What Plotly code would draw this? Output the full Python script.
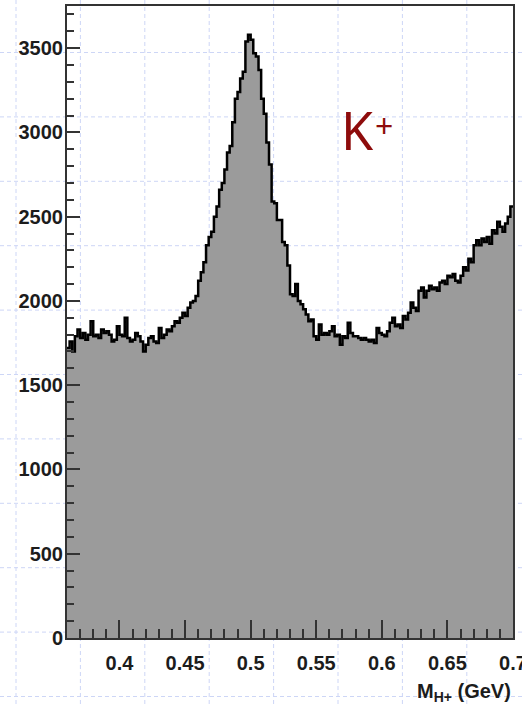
import numpy as np
import plotly.graph_objects as go

# Invariant-mass histogram: 170 bins of 2 MeV between 0.36 and 0.70 GeV
mass_lo = 0.36
mass_hi = 0.70
counts = [
    1720, 1760, 1700, 1790, 1830, 1780, 1810, 1770, 1800, 1880,
    1790, 1800, 1780, 1830, 1810, 1820, 1800, 1760, 1770, 1850,
    1800, 1790, 1900, 1780, 1760, 1770, 1810, 1790, 1760, 1700,
    1740, 1780, 1790, 1760, 1750, 1840, 1780, 1800, 1830, 1820,
    1850, 1880, 1870, 1900, 1930, 1910, 1960, 1990, 2000, 2030,
    2120, 2170, 2230, 2330, 2380, 2410, 2500, 2560, 2660, 2700,
    2780, 2880, 2920, 3060, 3200, 3240, 3320, 3360, 3540, 3580,
    3550, 3470, 3450, 3370, 3200, 3110, 2940, 2810, 2590, 2580,
    2480, 2480, 2350, 2330, 2210, 2040, 2030, 2100, 2000, 1980,
    1950, 1920, 1880, 1890, 1790, 1770, 1860, 1800, 1810, 1800,
    1820, 1850, 1790, 1800, 1740, 1790, 1780, 1870, 1810, 1790,
    1790, 1780, 1770, 1780, 1770, 1760, 1770, 1750, 1840, 1810,
    1800, 1790, 1820, 1870, 1900, 1850, 1860, 1840, 1910, 1890,
    1930, 1990, 1960, 1940, 2060, 2080, 2020, 2060, 2090, 2070,
    2080, 2060, 2110, 2120, 2100, 2150, 2140, 2160, 2120, 2110,
    2150, 2200, 2180, 2250, 2230, 2330, 2360, 2330, 2370, 2350,
    2380, 2340, 2420, 2400, 2470, 2440, 2410, 2460, 2500, 2560,
]
x_ticks = [0.4, 0.45, 0.5, 0.55, 0.6, 0.65, 0.7]
y_ticks = [0, 500, 1000, 1500, 2000, 2500, 3000, 3500]
particle_label = "K"
particle_charge = "+"

edges = np.linspace(mass_lo, mass_hi, len(counts) + 1)
step_x = list(edges)
step_y = list(counts) + [counts[-1]]

W, H = 522, 705
ML, MR, MT, MB = 67, 9, 6, 67
PW, PH = W - ML - MR, H - MT - MB

fig = go.Figure()
fig.add_trace(go.Scatter(
    x=step_x, y=step_y, mode="lines", line_shape="hv",
    line=dict(color="#000000", width=2.5),
    fill="tozeroy", fillcolor="#9b9b9b", hoverinfo="skip",
))

# light dashed lattice behind the frame
def px_to_paper_x(p):
    return (p - ML) / PW

def px_to_paper_y(p):
    return (H - MB - p) / PH

pitch = 64.4
lattice = dict(color="#cdd6f6", width=1, dash="4px,3px")
shapes = []
gx = 16.0
while gx < W:
    shapes.append(dict(type="line", xref="paper", yref="paper",
                       x0=px_to_paper_x(gx), x1=px_to_paper_x(gx),
                       y0=px_to_paper_y(0), y1=px_to_paper_y(H),
                       line=lattice, layer="below"))
    gx += pitch
gy = 52.5
while gy < H:
    shapes.append(dict(type="line", xref="paper", yref="paper",
                       x0=px_to_paper_x(0), x1=px_to_paper_x(W),
                       y0=px_to_paper_y(gy), y1=px_to_paper_y(gy),
                       line=lattice, layer="below"))
    gy += pitch

tick_font = dict(family="Liberation Sans, Arial, sans-serif", size=20,
                 color="#1c1c1c", weight="bold")
label_font = dict(family="Noto Sans, Open Sans, sans-serif", color="#8e0c0c")

fig.update_layout(
    width=W, height=H,
    margin=dict(l=ML, r=MR, t=MT, b=MB, pad=0, autoexpand=False),
    paper_bgcolor="white", plot_bgcolor="rgba(0,0,0,0)",
    showlegend=False,
    shapes=shapes,
    xaxis=dict(
        range=[mass_lo, mass_hi + 1e-6], tickvals=x_ticks,
        ticktext=[f"{v:g}" for v in x_ticks],
        ticks="inside", ticklen=18, tickwidth=1.5, tickcolor="#333333",
        minor=dict(ticks="inside", ticklen=9, tickwidth=1.5,
                   tickcolor="#333333", dtick=0.01, tick0=0.4, showgrid=False),
        showline=True, linecolor="#333333", linewidth=2, mirror=True,
        showgrid=False, zeroline=False, tickfont=tick_font,
        ticklabelstandoff=6, ticklabeloverflow="allow", automargin=False,
    ),
    yaxis=dict(
        range=[0, 3750], tickvals=y_ticks,
        ticks="inside", ticklen=13, tickwidth=1.5, tickcolor="#333333",
        minor=dict(ticks="inside", ticklen=7, tickwidth=1.5,
                   tickcolor="#333333", dtick=100, tick0=0, showgrid=False),
        showline=True, linecolor="#333333", linewidth=2, mirror=True,
        showgrid=False, zeroline=False, tickfont=tick_font,
        ticklabelstandoff=-2, automargin=False,
    ),
    annotations=[
        dict(text="M<sub>H+</sub> (GeV)", xref="paper", yref="paper",
             x=1.0, xanchor="right", y=px_to_paper_y(692), yanchor="middle",
             showarrow=False, font=tick_font),
        dict(text=particle_label, xref="paper", yref="paper",
             x=px_to_paper_x(340), xanchor="left",
             y=px_to_paper_y(129.5), yanchor="middle", showarrow=False,
             borderpad=0, font=dict(size=52, **label_font)),
        dict(text=particle_charge, xref="paper", yref="paper",
             x=px_to_paper_x(374), xanchor="left",
             y=px_to_paper_y(125), yanchor="middle", showarrow=False,
             borderpad=0, font=dict(size=32, **label_font)),
    ],
)

fig.write_html("out.html")
